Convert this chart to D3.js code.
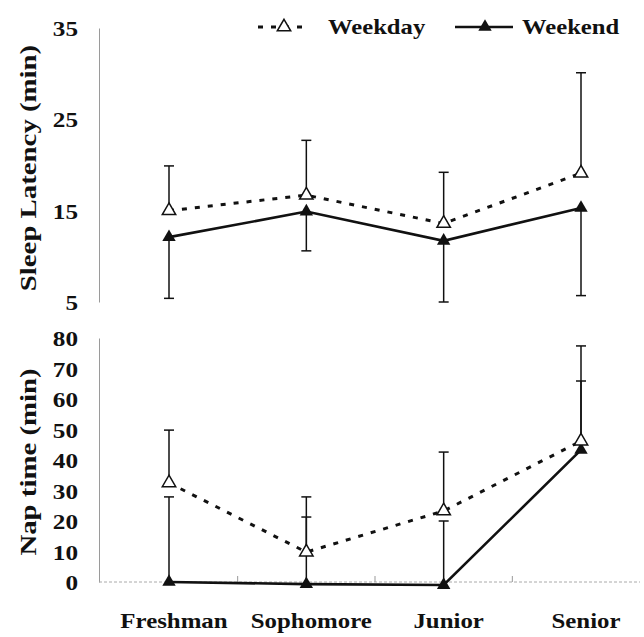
<!DOCTYPE html>
<html lang="en">
<head>
<meta charset="UTF-8">
<title>Sleep latency and nap time</title>
<script src="https://cdn.jsdelivr.net/npm/d3@7"></script>
<style>
	body {margin: 0; background: #fff;}
	text {font-family: "Liberation Serif", "Times New Roman", serif; font-weight: bold; fill: #111;}
</style>
</head>
<body>
<div id="chart"></div>
<script>
// ---- data ----
const categories = ["Freshman", "Sophomore", "Junior", "Senior"];

const latencyWeekday   = [15.0, 16.7, 13.6, 19.1];
const latencyWeekdaySD = [4.9, 6.0, 5.6, 11.0];
const latencyWeekend   = [12.1, 14.9, 11.7, 15.3];
const latencyWeekendSD = [6.7, 4.3, 6.7, 9.6];

const napWeekday   = [32.5, 9.8, 23.3, 46.2];
const napWeekdaySD = [17.3, 18.1, 19.3, 31.2];
const napWeekend   = [0, -0.7, -1.0, 43.3];
const napWeekendSD = [27.9, 22.0, 21.0, 22.6];

const latencyTicks = [5, 15, 25, 35];
const napTicks = [0, 10, 20, 30, 40, 50, 60, 70, 80];

const W = 644, H = 637;
const svg = d3.select("#chart").append("svg")
	.attr("width", W)
	.attr("height", H);

// glyphs in the scan are a bit wider than the font, stretch along the text
function stretch(sel, k) {
	sel.each(function() {
		const len = this.getComputedTextLength();
		d3.select(this).attr("textLength", len * k).attr("lengthAdjust", "spacingAndGlyphs");
	});
}

const x = d3.scalePoint().domain(categories).range([169, 581]);
const yTop = d3.scaleLinear().domain([5, 35]).range([302, 28]);
const yBot = d3.scaleLinear().domain([0, 80]).range([582, 338]);

const tri = d3.symbol().type(d3.symbolTriangle).size(78);

function drawAxis(y, ticks) {
	const g = svg.append("g")
		.attr("transform", "translate(99,0)")
		.call(d3.axisLeft(y).tickValues(ticks).tickSize(0).tickPadding(21).tickFormat(d3.format("d")));
	g.select(".domain").attr("stroke", "#9a9a9a").attr("stroke-width", 1);
	g.selectAll("text")
		.attr("font-size", "21px")
		.attr("dy", "0.36em")
		.call(stretch, 1.2);
	return g;
}

function drawPanel(y, weekday, weekdaySD, weekend, weekendSD, weekendDir) {
	const g = svg.append("g");
	const idx = d3.range(categories.length);

	// error bars: weekday always up, weekend direction depends on panel
	const bars = [];
	idx.forEach(function(i) {
		bars.push({c: categories[i], from: weekday[i], to: weekday[i] + weekdaySD[i]});
		bars.push({c: categories[i], from: weekend[i], to: weekend[i] + weekendDir * weekendSD[i]});
	});
	g.selectAll(".err").data(bars).enter().append("line")
		.attr("x1", d => x(d.c)).attr("x2", d => x(d.c))
		.attr("y1", d => y(d.from)).attr("y2", d => y(d.to))
		.attr("stroke", "#111").attr("stroke-width", 1.5);
	g.selectAll(".cap").data(bars).enter().append("line")
		.attr("x1", d => x(d.c) - 5).attr("x2", d => x(d.c) + 5)
		.attr("y1", d => y(d.to)).attr("y2", d => y(d.to))
		.attr("stroke", "#111").attr("stroke-width", 1.5);

	const line = d3.line().x(d => x(d[0])).y(d => y(d[1]));

	g.append("path")
		.datum(idx.map(i => [categories[i], weekend[i]]))
		.attr("d", line)
		.attr("fill", "none").attr("stroke", "#111").attr("stroke-width", 2.6);

	g.append("path")
		.datum(idx.map(i => [categories[i], weekday[i]]))
		.attr("d", line)
		.attr("fill", "none").attr("stroke", "#111").attr("stroke-width", 3)
		.attr("stroke-dasharray", "5,8");

	g.selectAll(".we").data(idx).enter().append("path")
		.attr("d", tri)
		.attr("transform", i => "translate(" + x(categories[i]) + "," + y(weekend[i]) + ")")
		.attr("fill", "#111");

	g.selectAll(".wd").data(idx).enter().append("path")
		.attr("d", tri)
		.attr("transform", i => "translate(" + x(categories[i]) + "," + y(weekday[i]) + ")")
		.attr("fill", "#fff").attr("stroke", "#111").attr("stroke-width", 1.5);
}

// ---- top panel: sleep latency ----
drawAxis(yTop, latencyTicks);
drawPanel(yTop, latencyWeekday, latencyWeekdaySD, latencyWeekend, latencyWeekendSD, -1);

// ---- bottom panel: nap time ----
drawAxis(yBot, napTicks);

// faint x axis with ticks between categories
const xs = categories.map(c => x(c));
svg.append("line")
	.attr("x1", 99).attr("x2", 640)
	.attr("y1", yBot(0)).attr("y2", yBot(0))
	.attr("stroke", "#aaa").attr("stroke-width", 1).attr("stroke-dasharray", "3,2");
svg.selectAll(".xtick").data(d3.range(xs.length - 1)).enter().append("line")
	.attr("x1", i => (xs[i] + xs[i + 1]) / 2).attr("x2", i => (xs[i] + xs[i + 1]) / 2)
	.attr("y1", yBot(0)).attr("y2", yBot(0) - 6)
	.attr("stroke", "#999").attr("stroke-width", 1);

drawPanel(yBot, napWeekday, napWeekdaySD, napWeekend, napWeekendSD, 1);

// category labels
svg.selectAll(".xlab").data(categories).enter().append("text")
	.attr("x", d => x(d) + 5)
	.attr("y", 628)
	.attr("text-anchor", "middle")
	.attr("font-size", "22px")
	.text(d => d)
	.call(stretch, 1.13);

// axis titles
svg.append("text")
	.attr("transform", "translate(36,168) rotate(-90)")
	.attr("text-anchor", "middle")
	.attr("font-size", "24px")
	.text("Sleep Latency (min)")
	.call(stretch, 1.2);

svg.append("text")
	.attr("transform", "translate(36,462) rotate(-90)")
	.attr("text-anchor", "middle")
	.attr("font-size", "24px")
	.text("Nap time (min)")
	.call(stretch, 1.2);

// ---- legend ----
const legY = 27;
const leg = svg.append("g");
leg.append("line")
	.attr("x1", 258).attr("x2", 306).attr("y1", legY).attr("y2", legY)
	.attr("stroke", "#111").attr("stroke-width", 3).attr("stroke-dasharray", "5,8");
leg.append("path").attr("d", tri)
	.attr("transform", "translate(284," + legY + ")")
	.attr("fill", "#fff").attr("stroke", "#111").attr("stroke-width", 1.5);
leg.append("text")
	.attr("x", 328).attr("y", legY + 7)
	.attr("font-size", "22px")
	.text("Weekday")
	.call(stretch, 1.12);

leg.append("line")
	.attr("x1", 455).attr("x2", 513).attr("y1", legY).attr("y2", legY)
	.attr("stroke", "#111").attr("stroke-width", 2.6);
leg.append("path").attr("d", tri)
	.attr("transform", "translate(485," + legY + ")")
	.attr("fill", "#111");
leg.append("text")
	.attr("x", 522).attr("y", legY + 7)
	.attr("font-size", "22px")
	.text("Weekend")
	.call(stretch, 1.12);
</script>
</body>
</html>
